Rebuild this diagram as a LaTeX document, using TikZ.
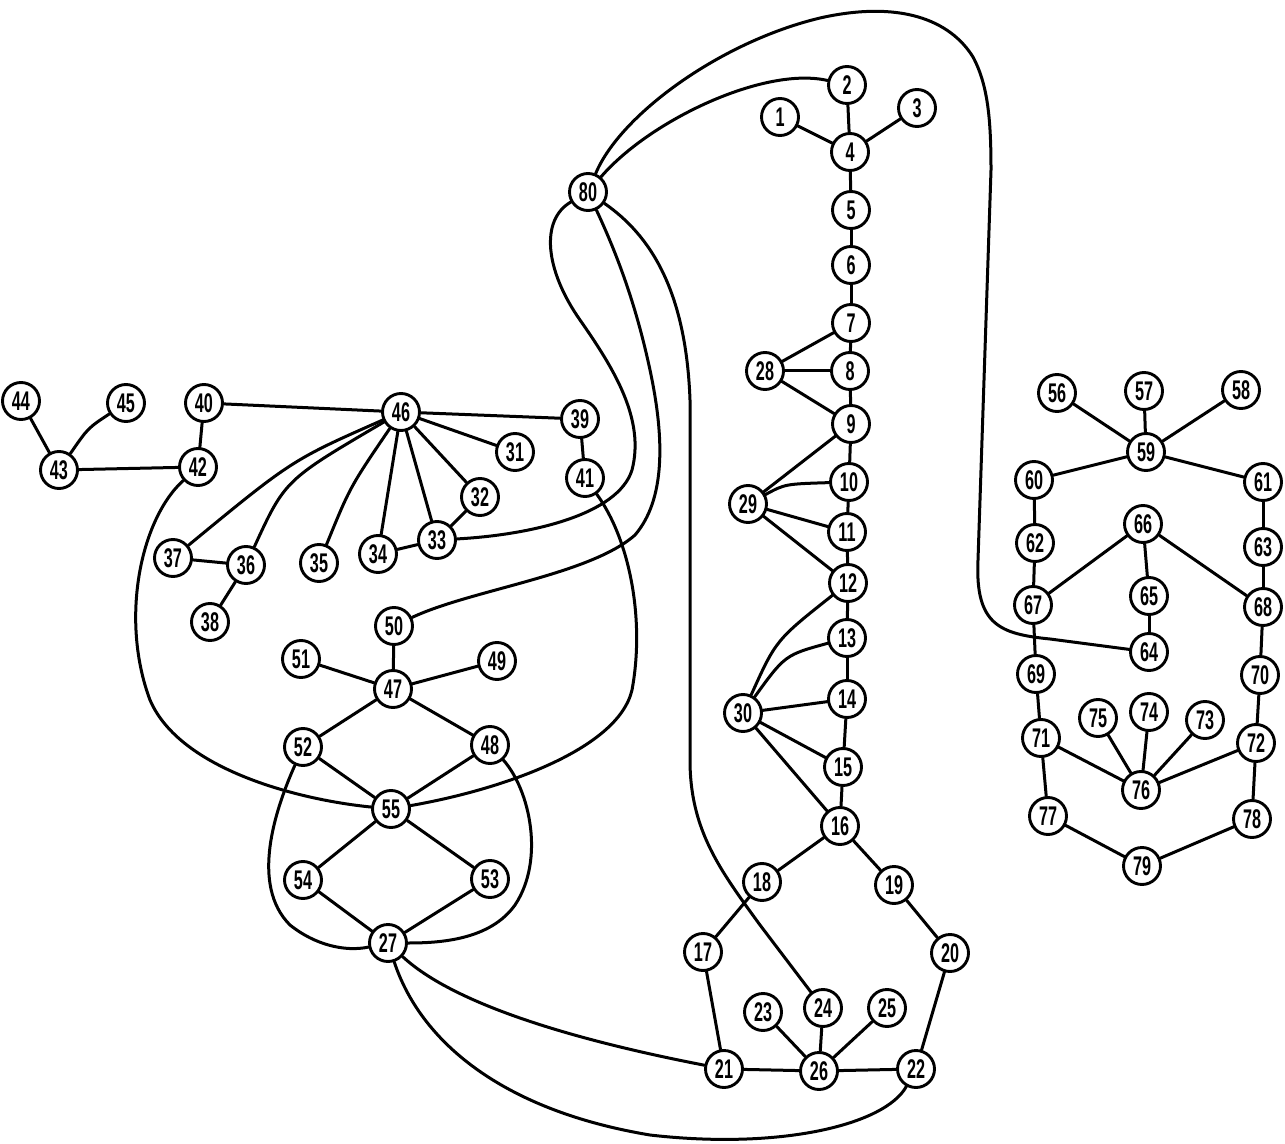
\documentclass[tikz,border=0pt]{standalone}
\usepackage{fontspec}
\newfontfamily\numfont{Liberation Sans}[FakeStretch=0.6]
\begin{document}
\begin{tikzpicture}[x=0.5pt,y=-0.5pt,
  v/.style={circle, draw, line width=1.45pt, minimum size=18.5pt, inner sep=0pt,
    font=\numfont\bfseries\fontsize{13.5}{13.5}\selectfont},
  e/.style={line width=1.5pt, line cap=round}]
\useasboundingbox (0,0) rectangle (1285,1144);
% nodes
\foreach \n/\x/\y in {1/780/117, 2/847/85, 3/917/108, 4/850/152, 5/851/210, 6/851/265,
  7/851/323, 8/850/371, 9/851/424, 10/849/482, 11/847/532, 12/848/583, 13/847/638,
  14/847/699, 15/843/767, 16/840/826, 17/703/952, 18/762/882, 19/894/885, 20/950/953,
  21/724/1069, 22/916/1069, 23/763/1012, 24/823/1008, 25/887/1008, 26/819/1071,
  27/388/943, 28/765/371, 29/748/504, 30/743/713, 31/515/452, 32/480/497, 33/437/540,
  34/378/554, 35/319/563, 36/246/565, 37/173/558, 38/210/622, 39/580/419, 40/204/403,
  41/585/478, 42/198/467, 43/59/470, 44/21/401, 45/126/403, 46/401/412, 47/393/689,
  48/490/745, 49/497/661, 50/394/626, 51/301/659, 52/303/747, 53/490/879, 54/303/880,
  55/391/809, 56/1057/393, 57/1144/391, 58/1241/390, 59/1146/452, 60/1034/480,
  61/1263/482, 62/1035/543, 63/1263/547, 64/1149/652, 65/1149/596, 66/1143/524,
  67/1033/605, 68/1263/607, 69/1036/674, 70/1260/675, 71/1041/738, 72/1256/743,
  73/1205/720, 74/1149/712, 75/1098/718, 76/1141/790, 77/1048/816, 78/1252/819,
  79/1142/866, 80/588/192}
  \node[v] (n\n) at (\x,\y) {\n};
% straight edges
\foreach \a/\b in {1/4, 2/4, 3/4, 4/5, 5/6, 6/7, 7/8, 8/9, 9/10, 10/11, 11/12, 12/13,
  13/14, 14/15, 15/16, 28/7, 28/8, 28/9, 29/9, 29/11, 29/12, 30/14, 30/15, 30/16,
  16/18, 16/19, 18/17, 19/20, 17/21, 20/22, 21/26, 26/22, 23/26, 24/26, 25/26,
  44/43, 43/42, 40/42, 40/46, 46/39, 46/31, 46/32, 46/33, 46/34, 34/33, 32/33,
  37/36, 36/38, 39/41, 50/47, 51/47, 49/47, 47/52, 47/48, 52/55, 48/55, 55/54,
  55/53, 54/27, 53/27, 56/59, 57/59, 58/59, 59/60, 59/61, 60/62, 62/67, 61/63,
  63/68, 66/67, 66/65, 66/68, 65/64, 67/69, 68/70, 69/71, 70/72, 71/76, 75/76,
  74/76, 73/76, 72/76, 71/77, 72/78, 77/79, 78/79}
  \draw[e] (n\a) -- (n\b);
% slightly curved edges
\draw[e] (n43) .. controls (88,428) .. (n45);
\draw[e] (n46) .. controls (292,460) .. (n37);
\draw[e] (n46) .. controls (285,480) .. (n36);
\draw[e] (n46) .. controls (350,487) .. (n35);
\draw[e] (n29) .. controls (785,484) .. (n10);
\draw[e] (n30) .. controls (776,640) .. (n12);
\draw[e] (n30) .. controls (785,655) .. (n13);
% long curves
\draw[e] (n80) .. controls (650,120) and (765,66) .. (n2);
\draw[e] (n80) .. controls (620,115) and (720,42) .. (820,18)
  .. controls (900,0) and (950,20) .. (973,57)
  .. controls (988,85) and (991,120) .. (991,170)
  -- (978,560)
  .. controls (975,625) and (1000,634) .. (1050,639) -- (n64);
\draw[e] (n80) .. controls (540,220) and (545,270) .. (580,320)
  .. controls (615,370) and (645,420) .. (632,470)
  .. controls (618,515) and (530,535) .. (n33);
\draw[e] (n80) .. controls (615,250) and (635,300) .. (650,370)
  .. controls (665,440) and (665,500) .. (635,535)
  .. controls (590,575) and (470,590) .. (n50);
\draw[e] (n80) .. controls (650,235) and (686,290) .. (690,400)
  -- (690,760) .. controls (690,830) and (720,870) .. (760,925) -- (n24);
\draw[e] (n41) .. controls (630,540) and (645,620) .. (632,690)
  .. controls (618,750) and (500,790) .. (n55);
\draw[e] (n42) .. controls (140,520) and (120,620) .. (150,700)
  .. controls (180,770) and (300,800) .. (n55);
\draw[e] (n52) .. controls (275,810) and (250,885) .. (290,925)
  .. controls (315,945) and (345,952) .. (n27);
\draw[e] (n48) .. controls (530,790) and (545,860) .. (515,905)
  .. controls (490,940) and (440,943) .. (n27);
\draw[e] (n27) .. controls (460,1010) and (600,1045) .. (n21);
\draw[e] (n27) .. controls (420,1040) and (500,1110) .. (650,1135)
  .. controls (780,1150) and (885,1125) .. (n22);
\end{tikzpicture}
\end{document}
